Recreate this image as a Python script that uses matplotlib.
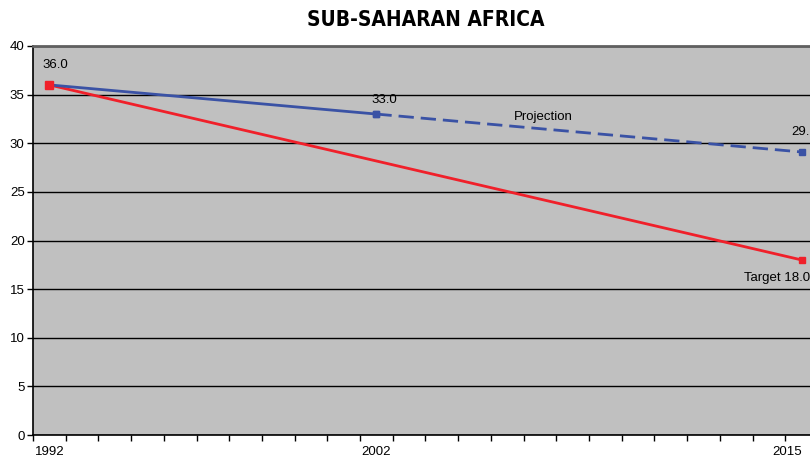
import matplotlib
matplotlib.use("Agg")
import matplotlib.pyplot as plt
import numpy as np

years = list(range(1992, 2016))
labeled_years = [1992, 2002, 2015]
actual_years = [1992, 2002]
actual_vals = [36.0, 33.0]
proj_years = [2002, 2015]
proj_vals = [33.0, 29.1]
target_years = [1992, 2015]
target_vals = [36.0, 18.0]
title = "SUB-SAHARAN AFRICA"

plt.rcParams['font.family'] = ['Liberation Sans', 'DejaVu Sans']

fig = plt.figure(figsize=(8.10, 4.62), dpi=100)
ax = fig.add_axes([33/810, 1-435/462, 785/810, (435-46)/462])
ax.set_facecolor('#C0C0C0')

def xi(y):
    return [years.index(v) for v in y] if isinstance(y, list) else years.index(y)

blue = '#3A52A5'
red = '#F0202A'
ax.plot(xi(target_years), target_vals, color=red, lw=2, marker='s', ms=5, zorder=3)
ax.plot(xi(actual_years), actual_vals, color=blue, lw=2, marker='s', ms=5, zorder=4)
ax.plot(xi(proj_years), proj_vals, color=blue, lw=2, ls=(0, (5.5, 2.5)), marker='s', ms=5, zorder=4)
ax.plot(xi(target_years)[:1], target_vals[:1], color=red, marker='s', ms=6, zorder=5)

ax.set_xlim(-0.5, len(years) - 0.5)
ax.set_ylim(0, 40)
ax.set_yticks(np.arange(0, 41, 5))
ax.set_xticks(np.arange(-0.5, len(years), 1), minor=False)
ax.set_xticklabels([])
ax.set_xticks([xi(y) for y in labeled_years], minor=True)
labels = ax.set_xticklabels([str(y) for y in labeled_years], minor=True)
labels[-1].set_ha('right')
ax.tick_params(axis='x', which='minor', length=0, labelsize=9.5, pad=8)
ax.tick_params(axis='x', which='major', length=4, width=1, direction='out')
ax.tick_params(axis='y', length=4, width=1, labelsize=9.5, pad=2)
ax.yaxis.grid(True, color='black', lw=1)
ax.set_axisbelow(True)
for s in ['left', 'bottom']:
    ax.spines[s].set_color('black')
    ax.spines[s].set_linewidth(1.2)
ax.spines['top'].set_color('#606060')
ax.spines['top'].set_linewidth(2)
ax.spines['right'].set_visible(False)

fs = 9.5
ax.annotate(f"{actual_vals[0]:.1f}", (xi(1992), actual_vals[0]), xytext=(4, 12), textcoords='offset points', ha='center', fontsize=fs)
ax.annotate(f"{actual_vals[1]:.1f}", (xi(2002), actual_vals[1]), xytext=(6, 8), textcoords='offset points', ha='center', fontsize=fs)
ax.annotate(f"{proj_vals[1]:.1f}", (xi(2015), proj_vals[1]), xytext=(2, 12), textcoords='offset points', ha='center', fontsize=fs)
ax.annotate(f"Target {target_vals[1]:.1f}", (xi(2015), target_vals[1]), xytext=(6, -15), textcoords='offset points', ha='right', fontsize=fs)
ax.text(15.1, 32.1, "Projection", ha='center', va='bottom', fontsize=fs)

fig.text(426/810, 1-20/462, title, ha='center', va='center', fontsize=15, fontweight='bold',
         family='DejaVu Sans', fontstretch='condensed')

fig.savefig('out.png', dpi=100)
